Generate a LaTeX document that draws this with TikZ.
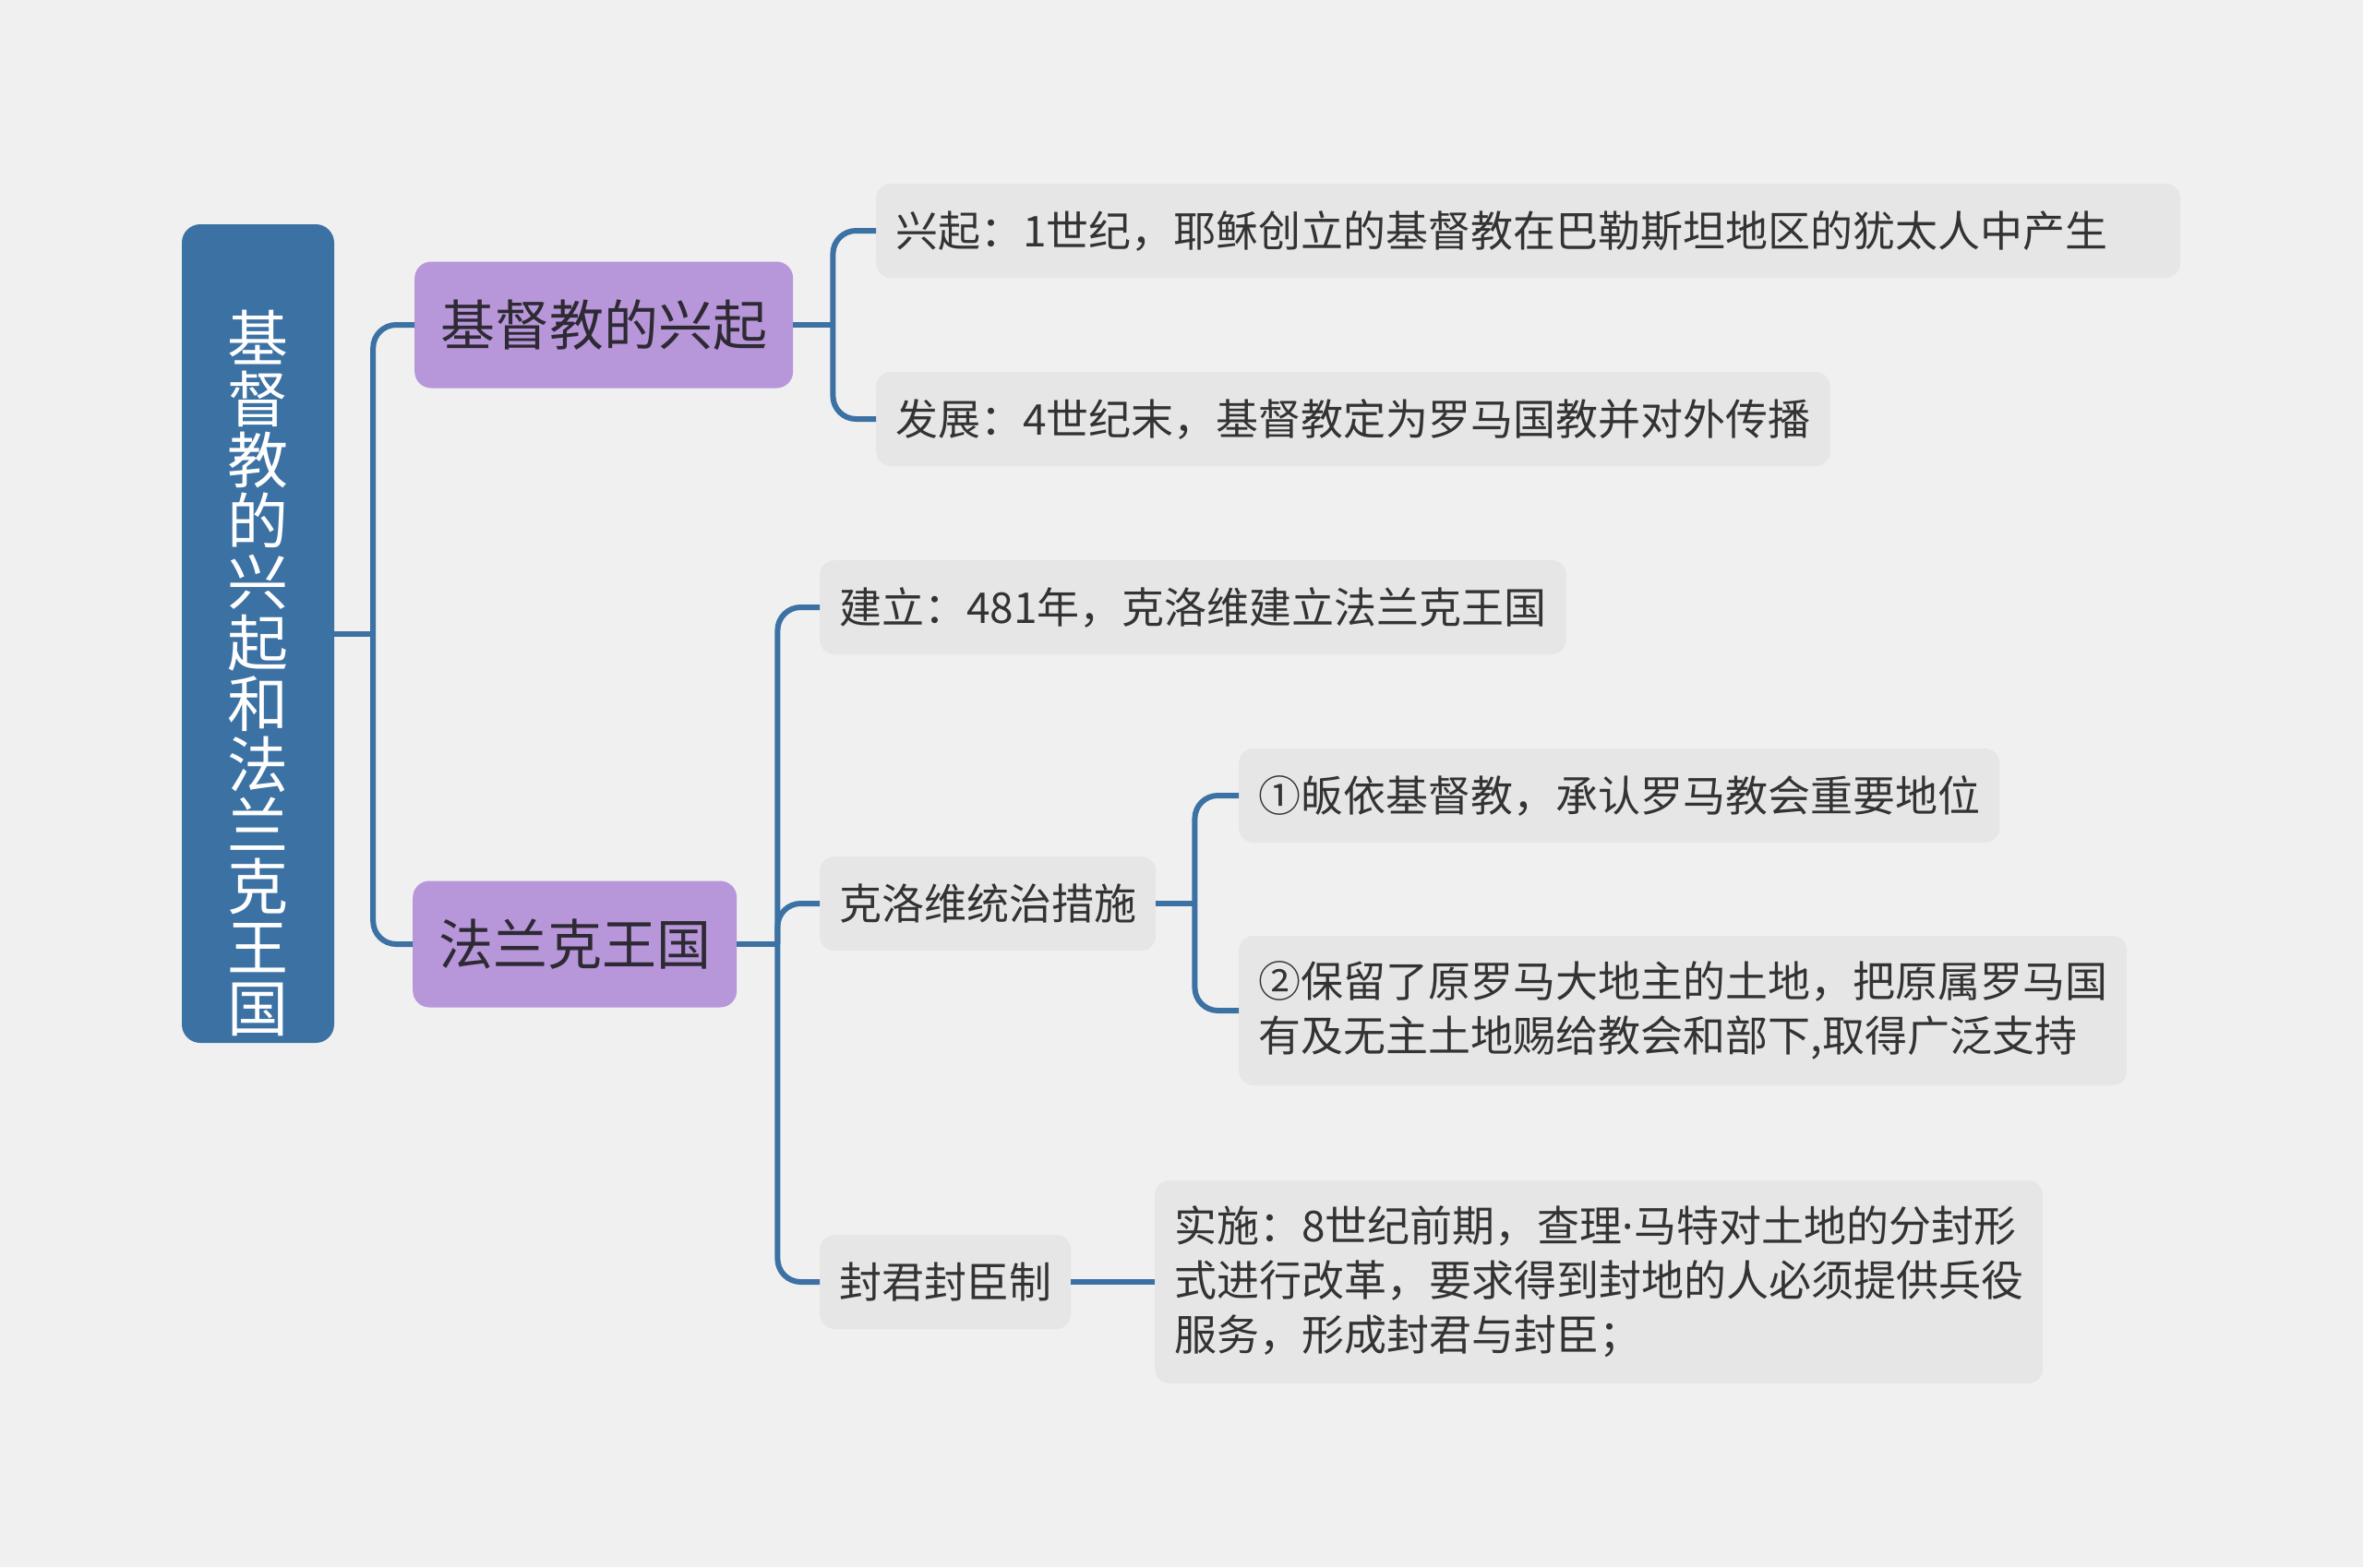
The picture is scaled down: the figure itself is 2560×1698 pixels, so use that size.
\documentclass[tikz,border=0pt]{standalone}
\usepackage{fontspec}
\setmainfont{Noto Sans CJK SC}
\newfontfamily\latinfont{Noto Sans}
\definecolor{bggray}{HTML}{F0F0F0}
\definecolor{rootblue}{HTML}{3C71A4}
\definecolor{linkblue}{HTML}{3C71A4}
\definecolor{topicpurple}{HTML}{B796DA}
\definecolor{topictext}{HTML}{2E2A33}
\definecolor{leafgray}{HTML}{E6E6E6}
\definecolor{leaftext}{HTML}{333333}
\usetikzlibrary{positioning}

\begin{document}
\begin{tikzpicture}[x=1pt,y=-1pt,
    rootbox/.style={fill=rootblue, rounded corners=20pt, minimum width=165pt,
                    minimum height=887pt, inner sep=0pt},
    roottext/.style={text=white, font=\fontsize{66}{66}\selectfont, align=center, inner sep=0pt},
    topic/.style={fill=topicpurple, text=topictext, rounded corners=18pt,
                  font=\fontsize{59}{70}\selectfont, inner xsep=28pt, inner ysep=0pt,
                  minimum height=137pt, anchor=west},
    leaf/.style={fill=leafgray, text=leaftext, rounded corners=16pt,
                 font=\fontsize{46}{59}\selectfont, inner xsep=21pt, inner ysep=0pt,
                 minimum height=102pt, align=left, anchor=west},
    link/.style={draw=linkblue, line width=6pt, rounded corners=25pt}
  ]
  \fill[bggray] (0,0) rectangle (2560,1698);
  \useasboundingbox (0,0) rectangle (2560,1698);

  % root
  \node[rootbox] (root) at (279.5,686.5) {};
  \node[roottext] (rootlabel) at (279.5,729) {基\\督\\教\\的\\兴\\起\\和\\法\\兰\\克\\王\\国};

  % main topics
  \node[topic] (rise) at (449,352) {基督教的兴起};
  \node[topic] (frank) at (447,1023) {法兰克王国};

  % rise of christianity
  \node[leaf, text width=1371pt] (origin) at (949,250) {兴起：1世纪，耶稣创立的基督教在巴勒斯坦地区的犹太人中产生};
  \node[leaf] (spread) at (949,454) {发展：4世纪末，基督教定为罗马国教并对外传播};

  % frankish kingdom
  \node[leaf] (found) at (888,658) {建立：481年，克洛维建立法兰克王国};
  \node[leaf] (rule) at (888,979) {克洛维统治措施};
  \node[leaf] (fief) at (888,1389) {封君封臣制};
  \node[leaf] (convert) at (1342,862) {①皈依基督教，承认罗马教会重要地位};
  \node[leaf, minimum height=162pt] (land) at (1342,1095)
    {②保留了原罗马大地主的土地，把原属罗马国\\有及无主土地赐给教会和部下,取得广泛支持};
  \node[leaf, minimum height=220pt] (reform) at (1251,1389)
    {实施：8世纪前期，查理{\latinfont ·}马特对土地的分封形\\式进行改革，要求得到封地的人必须提供兵役\\服务，形成封君与封臣；};

  % connectors
  \coordinate (rootfork) at ([xshift=42pt]root.east);
  \coordinate (risefork) at ([xshift=43pt]rise.east);
  \coordinate (frankfork) at ([xshift=44pt]frank.east);
  \coordinate (rulefork) at ([xshift=42pt]rule.east);

  \draw[link] (root.east) -- (rootfork);
  \draw[link] (rise.west) -| (rootfork) |- (frank.west);

  \draw[link] (rise.east) -- (risefork);
  \draw[link] (origin.west) -| (risefork) |- (spread.west);

  \draw[link] (frank.east) -- (frankfork);
  \draw[link] (found.west) -| (frankfork) |- (fief.west);
  \draw[link] (frankfork) |- (rule.west);

  \draw[link] (rule.east) -- (rulefork);
  \draw[link] (convert.west) -| (rulefork) |- (land.west);

  \draw[link] (fief.east) -- (reform.west);
\end{tikzpicture}
\end{document}
